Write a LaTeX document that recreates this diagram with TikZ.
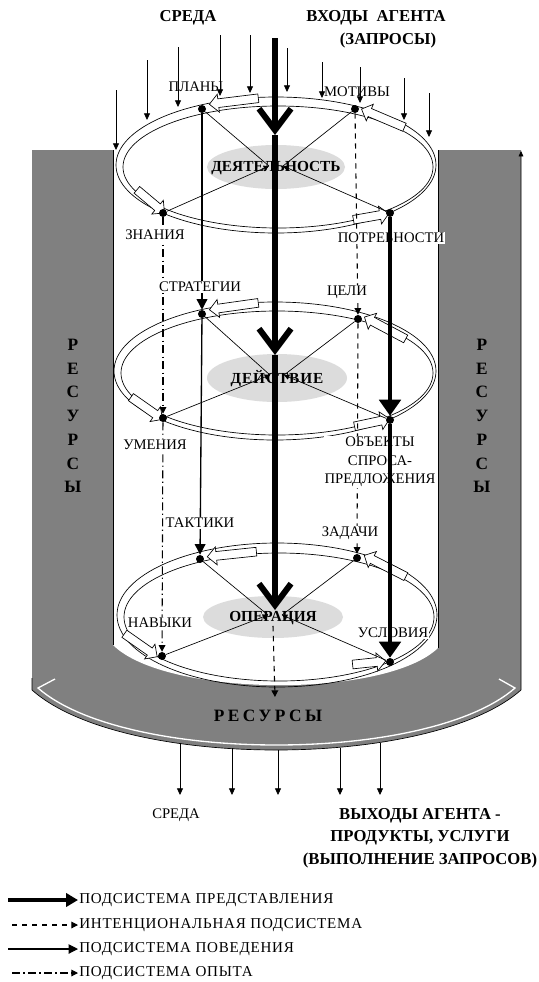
\documentclass[tikz,border=0pt]{standalone}
\usepackage{fontspec}
\setmainfont{Liberation Serif}
\usetikzlibrary{arrows.meta,shapes.arrows}

\definecolor{resgray}{HTML}{808080}
\definecolor{actgray}{HTML}{DCDCDC}

\tikzset{
  ring/.style={line width=0.5pt},
  cross/.style={line width=0.5pt},
  tocen/.style={line width=0.5pt,-{Triangle[length=4pt,width=4pt]}},
  dot/.style={circle,fill=black,inner sep=0pt,minimum size=6pt},
  lab/.style={inner sep=0.75pt,fill=white,font=\fontsize{11}{14}\selectfont,align=center},
  act/.style={inner sep=0.75pt,font=\fontsize{11.5}{14}\selectfont\bfseries},
  ttl/.style={inner sep=0.75pt,font=\fontsize{12.5}{17}\selectfont\bfseries,align=center},
  res/.style={inner sep=0.75pt,font=\fontsize{13}{17.8}\selectfont\bfseries,align=center},
  leg/.style={inner sep=0.75pt,anchor=west,font=\fontsize{11.3}{13}\selectfont\addfontfeatures{LetterSpace=5}},
  harrow/.style={single arrow,draw,fill=white,line width=0.5pt,inner sep=3pt,single arrow head extend=3.5pt},
  repr/.style={line width=4.5pt,-{Straight Barb[length=16pt,width=24pt]}},
  need/.style={line width=3.5pt,-{Triangle[length=12pt,width=16pt]}},
  behav/.style={line width=1pt,-{Triangle[length=8pt,width=8pt]}},
  inten/.style={line width=0.8pt,dash pattern=on 4pt off 3.5pt,-{Triangle[length=5pt,width=5pt]}},
  exper/.style={line width=0.8pt,dash pattern=on 6pt off 2.5pt on 1pt off 2.5pt,-{Triangle[length=5pt,width=5pt]}},
  envin/.style={line width=0.6pt,-{Triangle[length=5pt,width=4.5pt]}},
}

\begin{document}
\begin{tikzpicture}[x=0.75pt,y=0.75pt,yscale=-1,xscale=1]
\useasboundingbox (0,0) rectangle (539,982);

%Shape: Resources frame
\fill[resgray] (32,150) -- (521,150) -- (521,690) .. controls (430,770) and (122,770) .. (32,690) -- cycle ;
%Shape: inner cylinder
\fill[white] (113,150) -- (113,645) .. controls (165,697) and (385,699) .. (438,648) -- (438,150) -- cycle ;
\draw[line width=0.5pt] (113,150) -- (113,645) ;
\draw[line width=0.5pt] (438,150) -- (438,648) ;
%Shape: lower band edge
\draw[white,line width=1pt] (55,679) -- (38,688) .. controls (125,764) and (428,764) .. (515,688) -- (499,679) ;
\draw[line width=0.5pt,-{Triangle[length=4pt,width=3.5pt]}] (32,678) -- (32,690) .. controls (122,770) and (430,770) .. (521,690) -- (521,151) ;

%Shape: Ellipse rings
\draw[ring] (276,165) ellipse [x radius=160, y radius=68] ;
\draw[ring] (278,167) ellipse [x radius=155, y radius=61] ;
\draw[ring] (275,371) ellipse [x radius=161, y radius=69] ;
\draw[ring] (277,373) ellipse [x radius=156, y radius=62] ;
\draw[ring] (277,615) ellipse [x radius=160, y radius=72] ;
\draw[ring] (279,617) ellipse [x radius=155, y radius=64] ;

%Shape: label ellipses
\fill[actgray] (276,167) ellipse [x radius=69, y radius=22] ;
\fill[actgray] (277,378) ellipse [x radius=70, y radius=24] ;
\fill[actgray] (273,617) ellipse [x radius=70, y radius=21] ;

%Shape: hollow arrows on the rings
\node[harrow,minimum height=37pt,rotate=187] at (236,101) {};
\node[harrow,minimum height=35pt,rotate=157] at (385,119) {};
\node[harrow,minimum height=27pt,rotate=-40] at (149,200) {};
\node[harrow,minimum height=27pt,rotate=10] at (369,217) {};
\node[harrow,minimum height=37pt,rotate=188] at (236,306) {};
\node[harrow,minimum height=35pt,rotate=152] at (387,329) {};
\node[harrow,minimum height=29pt,rotate=-35] at (145,407) {};
\node[harrow,minimum height=27pt,rotate=12] at (370,423) {};
\node[harrow,minimum height=37pt,rotate=186] at (234,554) {};
\node[harrow,minimum height=35pt,rotate=153] at (387,567) {};
\node[harrow,minimum height=30pt,rotate=-35] at (139,644) {};
\node[harrow,minimum height=25pt,rotate=6] at (367,663) {};

%Points on the rings
\node[dot] (plany) at (202,109) {};
\node[dot] (motivy) at (355,109) {};
\node[dot] (znan) at (163,213) {};
\node[dot] (potreb) at (390,213) {};
\node[dot] (strat) at (202,314) {};
\node[dot] (celi) at (358,319) {};
\node[dot] (umen) at (163,418) {};
\node[dot] (obekt) at (390,420) {};
\node[dot] (takt) at (200,559) {};
\node[dot] (zadachi) at (357,558) {};
\node[dot] (navyki) at (162,656) {};
\node[dot] (uslov) at (390,662) {};

% Text Node
\node[act] (deyat) at (276,168) {ДЕЯТЕЛЬНОСТЬ};
\node[act,font=\fontsize{11.5}{14}\selectfont\bfseries\addfontfeatures{LetterSpace=6}] (deyst) at (277,379) {ДЕЙСТВИЕ};
\node[act] (oper) at (273,618) {ОПЕРАЦИЯ};

%Cross lines to the centre
\coordinate (dl) at (269,166); \coordinate (dr) at (283,166);
\coordinate (sl) at (270,375); \coordinate (sr) at (284,375);
\coordinate (ol) at (268,615); \coordinate (or) at (282,615);
\draw[cross] (plany) -- (dl) ; \draw[tocen] (znan) -- (dl) ;
\draw[cross] (motivy) -- (dr) ; \draw[tocen] (potreb) -- (dr) ;
\draw[cross] (strat) -- (sl) ; \draw[tocen] (umen) -- (sl) ;
\draw[cross] (celi) -- (sr) ; \draw[tocen] (obekt) -- (sr) ;
\draw[cross] (takt) -- (ol) ; \draw[tocen] (navyki) -- (ol) ;
\draw[cross] (zadachi) -- (or) ; \draw[tocen] (uslov) -- (or) ;

%Behaviour, intention, experience
\draw[behav] (plany) -- (strat) ;
\draw[behav] (strat) -- (takt) ;
\draw[inten] (motivy) -- (celi) ;
\draw[inten] (celi) -- (zadachi) ;
\coordinate (resin) at (275,697);
\draw[inten] (oper.south) -- (resin) ;
\draw[exper] (znan) -- (umen) ;
\draw[exper] (umen) -- (navyki) ;

% Text Node
\node[lab] (planyl) at (196,87) {ПЛАНЫ};
\node[lab] (motivyl) at (357,92) {МОТИВЫ};
\node[lab] (znanl) at (155,235) {ЗНАНИЯ};
\node[lab] (potrebl) at (391,238) {ПОТРЕБНОСТИ};
\node[lab] (stratl) at (200,287) {СТРАТЕГИИ};
\node[lab] (celil) at (347,292) {ЦЕЛИ};
\node[lab] (umenl) at (155,445) {УМЕНИЯ};
\node[lab] (obektl) at (380,462) {ОБЪЕКТЫ\\СПРОСА-\\ПРЕДЛОЖЕНИЯ};
\node[lab] (taktl) at (200,523) {ТАКТИКИ};
\node[lab] (zadachil) at (350,533) {ЗАДАЧИ};
\node[lab] (navykil) at (160,623) {НАВЫКИ};
\node[lab] (uslovl) at (393,633) {УСЛОВИЯ};

%Representation
\coordinate (vin) at (275,38);
\coordinate (v1) at (275,135);
\coordinate (v2) at (275,355);
\coordinate (v3) at (275,610);
\draw[repr] (vin) -- (v1) ;
\draw[repr] (v1) -- (v2) ;
\draw[repr] (v2) -- (v3) ;
\draw[need] (potreb) -- (obekt) ;
\draw[need] (obekt) -- (uslov) ;

%Environment inputs
\foreach \x/\ya/\yb [count=\i] in {116/90/150, 147/60/120, 178/47/107, 220/35/96, 250/35/93, 287/48/92, 322/62/98, 360/67/103, 404/78/120, 429/93/137} {
  \coordinate (ea\i) at (\x,\ya);
  \coordinate (eb\i) at (\x,\yb);
  \draw[envin] (ea\i) -- (eb\i) ;
}
%Outputs
\foreach \x/\ya [count=\i] in {180/743, 232/748, 278/750, 340/748, 380/743} {
  \coordinate (oa\i) at (\x,\ya);
  \coordinate (ob\i) at (\x,795);
  \draw[envin] (oa\i) -- (ob\i) ;
}

% Text Node
\node[ttl] (sreda) at (188,18) {СРЕДА};
\node[ttl] (vhody) at (376,18) {ВХОДЫ\ \ АГЕНТА};
\node[ttl] (zapr) at (388,40) {(ЗАПРОСЫ)};
\node[res] (resl) at (73,416) {Р\\Е\\С\\У\\Р\\С\\Ы};
\node[res] (resr) at (482,416) {Р\\Е\\С\\У\\Р\\С\\Ы};
\node[res,font=\fontsize{13}{16}\selectfont\bfseries\addfontfeatures{LetterSpace=20}] (resb) at (268,716) {РЕСУРСЫ};
\node[lab,fill=none] (sredab) at (176,815) {СРЕДА};
\node[ttl] (vyhody) at (420,838) {ВЫХОДЫ АГЕНТА -\\ПРОДУКТЫ, УСЛУГИ\\(ВЫПОЛНЕНИЕ ЗАПРОСОВ)};

%Legend
\node[leg] (lg1) at (78,900) {ПОДСИСТЕМА ПРЕДСТАВЛЕНИЯ};
\node[leg] (lg2) at (78,925) {ИНТЕНЦИОНАЛЬНАЯ ПОДСИСТЕМА};
\node[leg] (lg3) at (78,949) {ПОДСИСТЕМА ПОВЕДЕНИЯ};
\node[leg] (lg4) at (78,973) {ПОДСИСТЕМА ОПЫТА};
\coordinate (lg1s) at (8,900);
\coordinate (lg2s) at (12,925);
\coordinate (lg3s) at (8,949);
\coordinate (lg4s) at (12,973);
\draw[line width=2.5pt,-{Triangle[length=9pt,width=10pt]}] (lg1s) -- (lg1.west) ;
\draw[inten] (lg2s) -- (lg2.west) ;
\draw[line width=0.8pt,-{Triangle[length=7pt,width=7pt]}] (lg3s) -- (lg3.west) ;
\draw[exper] (lg4s) -- (lg4.west) ;
\end{tikzpicture}
\end{document}
